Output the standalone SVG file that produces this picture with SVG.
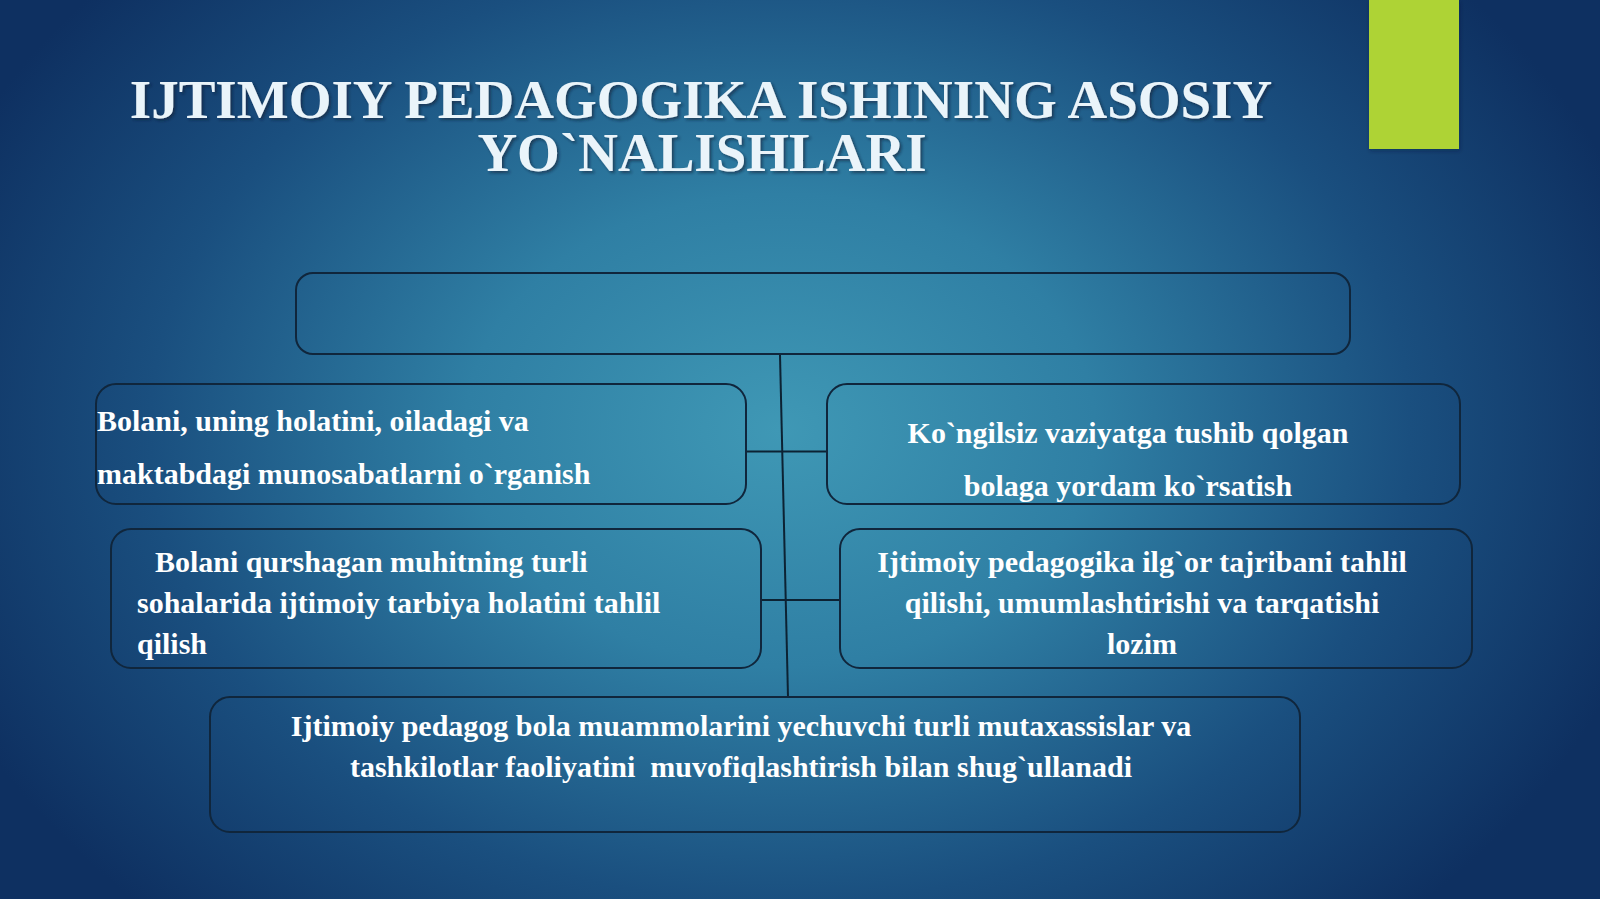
<svg xmlns="http://www.w3.org/2000/svg" width="1600" height="899" viewBox="0 0 1600 899">
  <defs>
    <radialGradient id="bg" gradientUnits="userSpaceOnUse" cx="780" cy="430" r="900" gradientTransform="translate(780 430) scale(1 0.75) translate(-780 -430)">
      <stop offset="0" stop-color="#3f98b5"/>
      <stop offset="0.35" stop-color="#2f7fa4"/>
      <stop offset="0.7" stop-color="#1a4f7f"/>
      <stop offset="1" stop-color="#0e3061"/>
    </radialGradient>
    <filter id="tshadow" x="-5%" y="-20%" width="110%" height="140%">
      <feDropShadow dx="2" dy="2" stdDeviation="1.5" flood-color="#0a2035" flood-opacity="0.6"/>
    </filter>
    <filter id="bshadow" x="-5%" y="-10%" width="110%" height="125%">
      <feDropShadow dx="1" dy="2" stdDeviation="2" flood-color="#0a2035" flood-opacity="0.35"/>
    </filter>
  </defs>
  <style>
    .title { font-family: "Liberation Serif", "Times New Roman", serif; font-weight: bold; font-size: 55px; fill: #eaf4fa; text-anchor: middle; }
    .box { fill: none; stroke: #10263c; stroke-width: 2; }
    .lbl { font-family: "Liberation Serif", "Times New Roman", serif; font-weight: bold; font-size: 30px; fill: #ffffff; }
    .mid { text-anchor: middle; }
    .conn { stroke: #0c2233; stroke-width: 2; fill: none; }
  </style>

  <rect x="0" y="0" width="1600" height="899" fill="url(#bg)"/>

  <rect id="accent" x="1369" y="0" width="90" height="149" fill="#aed335" filter="url(#bshadow)"/>

  <g id="title" filter="url(#tshadow)">
    <text class="title" x="701" y="118">IJTIMOIY PEDAGOGIKA ISHINING ASOSIY</text>
    <text class="title" x="702" y="171">YO`NALISHLARI</text>
  </g>

  <g id="connectors">
    <line class="conn" x1="780" y1="355" x2="788" y2="697"/>
    <line class="conn" x1="746" y1="451.5" x2="827" y2="451.5"/>
    <line class="conn" x1="761" y1="600" x2="840" y2="600"/>
  </g>

  <g id="node-top">
    <rect class="box" x="296" y="273" width="1054" height="81" rx="17"/>
  </g>

  <g id="node-left1">
    <rect class="box" x="96" y="384" width="650" height="120" rx="20"/>
    <text class="lbl" x="97" y="431">Bolani, uning holatini, oiladagi va</text>
    <text class="lbl" x="97" y="484">maktabdagi munosabatlarni o`rganish</text>
  </g>

  <g id="node-right1">
    <rect class="box" x="827" y="384" width="633" height="120" rx="20"/>
    <text class="lbl mid" x="1128" y="443">Ko`ngilsiz vaziyatga tushib qolgan</text>
    <text class="lbl mid" x="1128" y="496">bolaga yordam ko`rsatish</text>
  </g>

  <g id="node-left2">
    <rect class="box" x="111" y="529" width="650" height="139" rx="20"/>
    <text class="lbl" x="155" y="572">Bolani qurshagan muhitning turli</text>
    <text class="lbl" x="137" y="613">sohalarida ijtimoiy tarbiya holatini tahlil</text>
    <text class="lbl" x="137" y="654">qilish</text>
  </g>

  <g id="node-right2">
    <rect class="box" x="840" y="529" width="632" height="139" rx="20"/>
    <text class="lbl mid" x="1142" y="572">Ijtimoiy pedagogika ilg`or tajribani tahlil</text>
    <text class="lbl mid" x="1142" y="613">qilishi, umumlashtirishi va tarqatishi</text>
    <text class="lbl mid" x="1142" y="654">lozim</text>
  </g>

  <g id="node-bottom">
    <rect class="box" x="210" y="697" width="1090" height="135" rx="20"/>
    <text class="lbl mid" x="741" y="736">Ijtimoiy pedagog bola muammolarini yechuvchi turli mutaxassislar va</text>
    <text class="lbl mid" x="741" y="777" xml:space="preserve">tashkilotlar faoliyatini  muvofiqlashtirish bilan shug`ullanadi</text>
  </g>
</svg>
